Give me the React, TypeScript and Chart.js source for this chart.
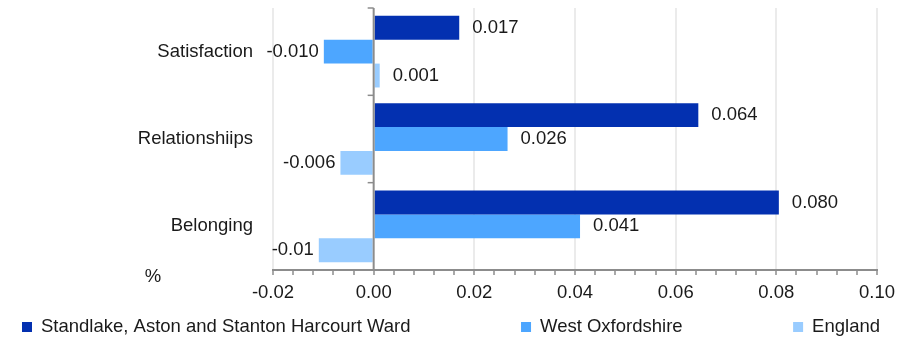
import React, { useEffect, useRef } from 'react';
import { Chart, registerables } from 'chart.js';

Chart.register(...registerables);

const categories = ['Satisfaction', 'Relationshiips', 'Belonging'];
const seriesNames = ['Standlake, Aston and Stanton Harcourt Ward', 'West Oxfordshire', 'England'];
const wardValues = [0.017, 0.0645, 0.0805];
const westOxValues = [-0.0099, 0.0266, 0.041];
const englandValues = [0.0012, -0.0066, -0.0109];
const wardLabels = ['0.017', '0.064', '0.080'];
const westOxLabels = ['-0.010', '0.026', '0.041'];
const englandLabels = ['0.001', '-0.006', '-0.01'];
const seriesColors = ['#0330b0', '#4da6ff', '#99ccff'];
const axisMin = -0.02;
const axisMax = 0.1;
const minorStep = 0.004;
const axisTitle = '%';

const FONT = '"Liberation Sans", Arial, sans-serif';
const FS = 18.5;
const TEXT = '#1a1a1a';
const AXIS = '#8c8c8c';

const isMajor = (v: number) => Math.abs(v * 50 - Math.round(v * 50)) < 1e-6;

const overlayPlugin = {
  id: 'overlay',
  afterDatasetsDraw(chart: any) {
    const ctx = chart.ctx;
    const area = chart.chartArea;
    const xs = chart.scales.x;
    const zx = xs.getPixelForValue(0);
    ctx.save();
    ctx.strokeStyle = AXIS;
    ctx.lineWidth = 2;
    ctx.beginPath();
    ctx.moveTo(zx, area.top);
    ctx.lineTo(zx, area.bottom);
    ctx.stroke();
    const n = categories.length;
    const h = (area.bottom - area.top) / n;
    ctx.lineWidth = 1.5;
    for (let i = 0; i < n; i++) {
      const y = area.top + i * h;
      ctx.beginPath();
      ctx.moveTo(zx - 6, y);
      ctx.lineTo(zx, y);
      ctx.stroke();
    }
    ctx.font = `${FS}px ${FONT}`;
    ctx.fillStyle = TEXT;
    ctx.textBaseline = 'middle';
    const labelSets = [wardLabels, westOxLabels, englandLabels];
    chart.data.datasets.forEach((ds: any, di: number) => {
      const meta = chart.getDatasetMeta(di);
      meta.data.forEach((bar: any, i: number) => {
        const v = ds.data[i];
        const txt = labelSets[di][i];
        if (v >= 0) {
          ctx.textAlign = 'left';
          ctx.fillText(txt, bar.x + 13, bar.y);
        } else {
          ctx.textAlign = 'right';
          ctx.fillText(txt, bar.x - 5, bar.y);
        }
      });
    });
    ctx.restore();
  },
  afterDraw(chart: any) {
    const ctx = chart.ctx;
    ctx.save();
    ctx.font = `${FS}px ${FONT}`;
    ctx.fillStyle = TEXT;
    ctx.textBaseline = 'middle';
    ctx.textAlign = 'center';
    ctx.fillText(axisTitle, 153, 277);
    const left = 22;
    const right = 880;
    const box = 10;
    const gap = 9;
    const widths = seriesNames.map((s) => box + gap + ctx.measureText(s).width);
    const total = widths.reduce((a, b) => a + b, 0);
    const space = (right - left - total) / (seriesNames.length - 1);
    let x = left;
    const y = 327;
    ctx.textAlign = 'left';
    seriesNames.forEach((s, i) => {
      ctx.fillStyle = seriesColors[i];
      ctx.fillRect(x, y - 5, box, box);
      ctx.fillStyle = TEXT;
      ctx.fillText(s, x + box + gap, y);
      x += widths[i] + space;
    });
    ctx.restore();
  },
};

export default function App() {
  const ref = useRef<HTMLCanvasElement | null>(null);
  useEffect(() => {
    if (!ref.current) return;
    const chart = new Chart(ref.current, {
      type: 'bar',
      data: {
        labels: categories,
        datasets: [
          { label: seriesNames[0], data: wardValues, backgroundColor: seriesColors[0] },
          { label: seriesNames[1], data: westOxValues, backgroundColor: seriesColors[1] },
          { label: seriesNames[2], data: englandValues, backgroundColor: seriesColors[2] },
        ],
      },
      options: {
        indexAxis: 'y',
        responsive: false,
        animation: false,
        devicePixelRatio: 1,
        layout: { padding: { top: 8, right: 28, bottom: 39, left: 0 } },
        datasets: { bar: { barPercentage: 1, categoryPercentage: 0.82 } },
        plugins: { legend: { display: false }, tooltip: { enabled: false } },
        scales: {
          x: {
            type: 'linear',
            min: axisMin,
            max: axisMax,
            afterFit: (s: any) => { s.height = 30; s.paddingLeft = 0; s.paddingRight = 0; },
            ticks: {
              stepSize: minorStep,
              autoSkip: false,
              maxRotation: 0,
              padding: 7,
              color: TEXT,
              font: { family: FONT, size: FS },
              callback: (v: any) => (isMajor(Number(v)) ? Number(v).toFixed(2) : ''),
            },
            grid: {
              color: (c: any) => {
                const v = c.tick ? c.tick.value : 0;
                if (Math.abs(v) < 1e-9) return 'rgba(0,0,0,0)';
                return isMajor(v) ? '#ebebeb' : 'rgba(0,0,0,0)';
              },
              lineWidth: 2,
              tickColor: AXIS,
              tickLength: 5,
              tickWidth: 1.5,
            },
            border: { color: AXIS, width: 2 },
          },
          y: {
            afterFit: (s: any) => { s.width = 273; s.paddingTop = 0; s.paddingBottom = 0; },
            ticks: { color: TEXT, padding: 12, font: { family: FONT, size: FS } },
            grid: { display: false },
            border: { display: false },
          },
        },
      },
      plugins: [overlayPlugin],
    } as any);
    return () => chart.destroy();
  }, []);
  return (
    <div style={{ position: 'fixed', left: 0, top: 0, width: 905, height: 339, background: '#fff' }}>
      <canvas ref={ref} width={905} height={339} />
    </div>
  );
}
